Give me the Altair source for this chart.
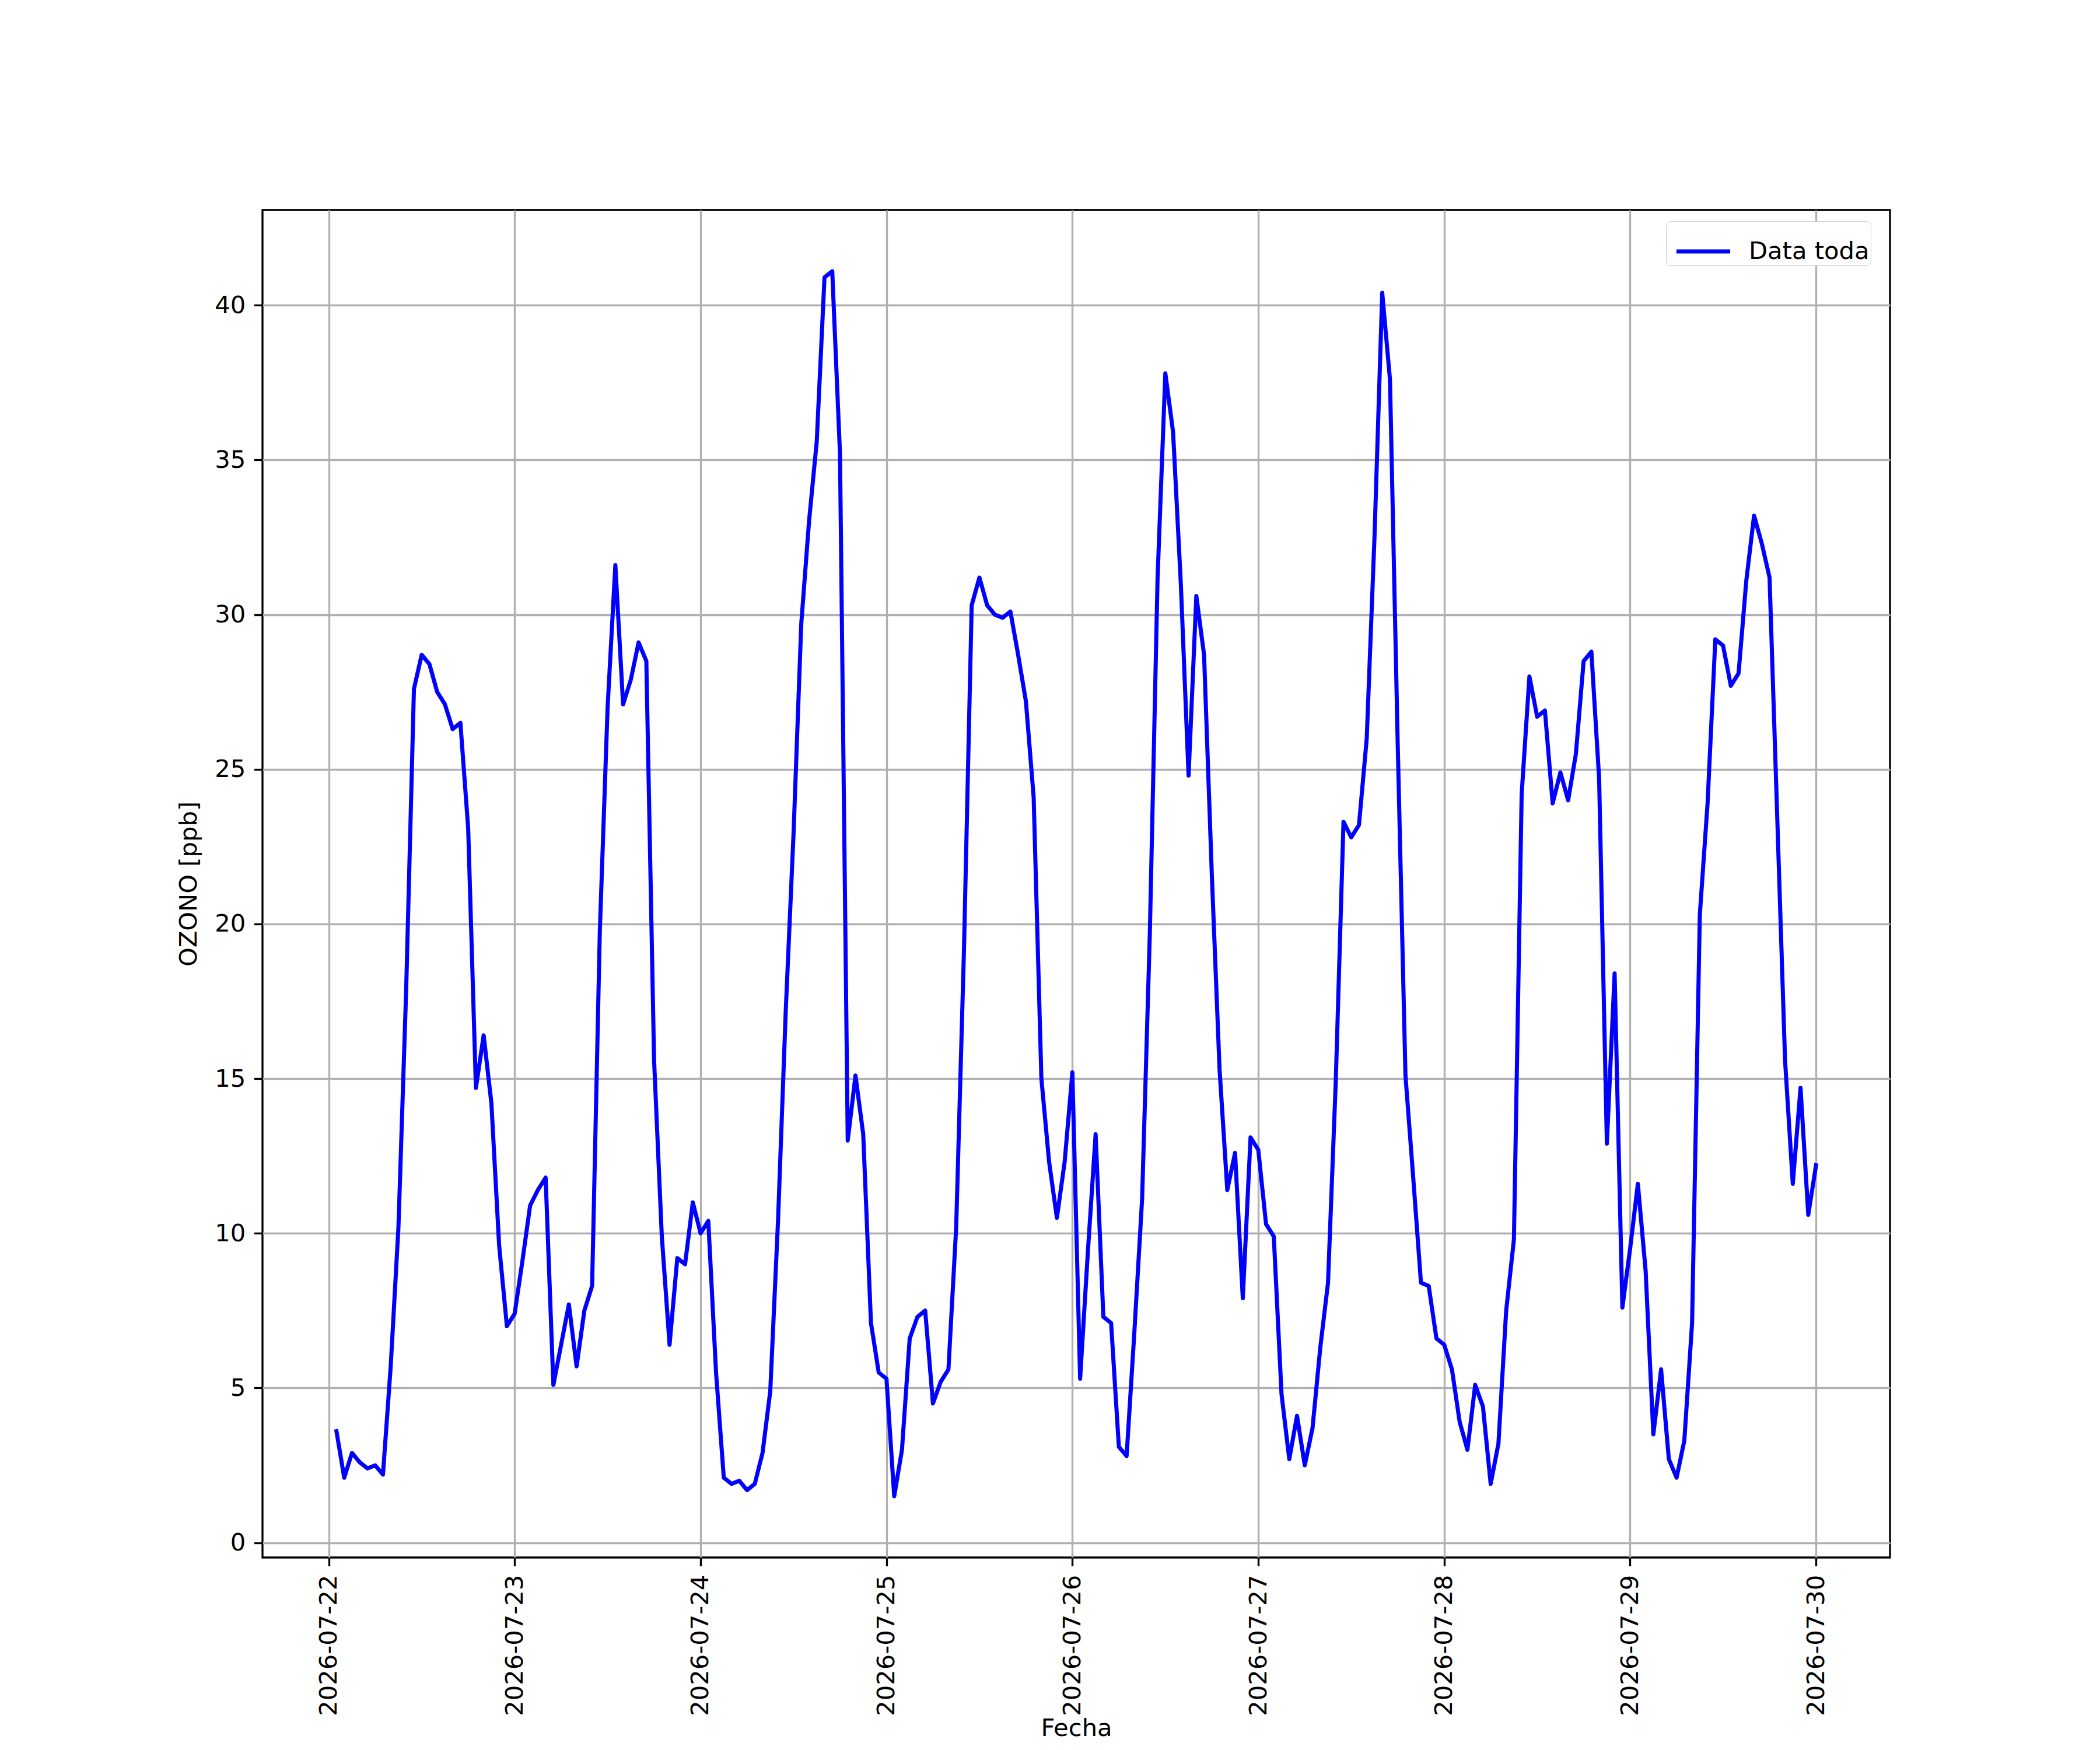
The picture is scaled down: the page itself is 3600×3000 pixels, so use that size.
import altair as alt
import pandas as pd

# Hourly OZONO values, 2026-07-22 01:00 ... 2026-07-30 00:00 (24 per day)
dia_22 = [3.6, 2.1, 2.9, 2.6, 2.4, 2.5, 2.2, 5.7, 10.2, 17.9, 27.6, 28.7,
          28.4, 27.5, 27.1, 26.3, 26.5, 23.1, 14.7, 16.4, 14.2, 9.6, 7.0, 7.4]
dia_23 = [9.1, 10.9, 11.4, 11.8, 5.1, 6.4, 7.7, 5.7, 7.5, 8.3, 19.8, 27.0,
          31.6, 27.1, 27.9, 29.1, 28.5, 15.6, 9.9, 6.4, 9.2, 9.0, 11.0, 10.0]
dia_24 = [10.4, 5.5, 2.1, 1.9, 2.0, 1.7, 1.9, 2.9, 4.9, 10.4, 17.2, 22.9,
          29.7, 33.0, 35.6, 40.9, 41.1, 35.2, 13.0, 15.1, 13.2, 7.1, 5.5, 5.3]
dia_25 = [1.5, 3.0, 6.6, 7.3, 7.5, 4.5, 5.2, 5.6, 10.2, 19.1, 30.3, 31.2,
          30.3, 30.0, 29.9, 30.1, 28.7, 27.2, 24.1, 15.0, 12.3, 10.5, 12.3, 15.2]
dia_26 = [5.3, 9.4, 13.2, 7.3, 7.1, 3.1, 2.8, 6.8, 11.1, 19.7, 31.2, 37.8,
          35.9, 31.0, 24.8, 30.6, 28.7, 21.6, 15.3, 11.4, 12.6, 7.9, 13.1, 12.7]
dia_27 = [10.3, 9.9, 4.8, 2.7, 4.1, 2.5, 3.7, 6.3, 8.4, 14.9, 23.3, 22.8,
          23.2, 26.0, 32.5, 40.4, 37.6, 25.8, 15.1, 11.8, 8.4, 8.3, 6.6, 6.4]
dia_28 = [5.6, 3.9, 3.0, 5.1, 4.4, 1.9, 3.2, 7.5, 9.8, 24.2, 28.0, 26.7,
          26.9, 23.9, 24.9, 24.0, 25.5, 28.5, 28.8, 24.7, 12.9, 18.4, 7.6, 9.5]
dia_29 = [11.6, 8.8, 3.5, 5.6, 2.7, 2.1, 3.3, 7.1, 20.3, 23.9, 29.2, 29.0,
          27.7, 28.1, 31.1, 33.2, 32.3, 31.2, 23.4, 15.6, 11.6, 14.7, 10.6, 12.2]

ozono = dia_22 + dia_23 + dia_24 + dia_25 + dia_26 + dia_27 + dia_28 + dia_29
fechas = pd.date_range("2026-07-22 01:00", periods=len(ozono), freq="h")

tick_days = [22, 23, 24, 25, 26, 27, 28, 29, 30]
serie = "Data toda"

df = pd.DataFrame({
    "Fecha": [f.strftime("%Y-%m-%dT%H:%M:%S") for f in fechas],
    "OZONO": ozono,
    "serie": serie,
})

FONT = "DejaVu Sans"
FS = 41.67
LW = 3.33
LINE_W = 7

chart = alt.Chart(df).mark_line(
    strokeWidth=LINE_W, strokeJoin="round", strokeCap="square"
).encode(
    x=alt.X(
        "Fecha:T",
        scale=alt.Scale(domain=[
            alt.DateTime(year=2026, month=7, date=21, hours=15, minutes=27),
            alt.DateTime(year=2026, month=7, date=30, hours=9, minutes=33),
        ]),
        axis=alt.Axis(
            values=[alt.DateTime(year=2026, month=7, date=d) for d in tick_days],
            format="%Y-%m-%d",
            labelAngle=270,
            labelAlign="right",
            labelBaseline="middle",
            labelLimit=500,
            title="Fecha",
            titleY=272,
            titleBaseline="top",
        ),
    ),
    y=alt.Y(
        "OZONO:Q",
        scale=alt.Scale(domain=[-0.48, 43.08], nice=False, zero=False),
        axis=alt.Axis(
            values=[0, 5, 10, 15, 20, 25, 30, 35, 40],
            title="OZONO [ppb]",
            titlePadding=22,
        ),
    ),
    color=alt.Color(
        "serie:N",
        scale=alt.Scale(domain=[serie], range=["#0000ff"]),
        legend=alt.Legend(
            title=None,
            orient="none",
            legendX=2406,
            legendY=19,
            symbolType="stroke",
            symbolStrokeWidth=LINE_W,
            symbolSize=8500,
            symbolOffset=12,
            labelFont=FONT,
            labelFontSize=FS,
            labelColor="black",
            labelLimit=500,
            labelOffset=28,
            padding=2,
            strokeColor="#cccccc",
            fillColor="white",
            cornerRadius=8,
        ),
    ),
).properties(
    width=2790,
    height=2310,
    padding={"left": 442, "top": 352, "right": 352, "bottom": 322},
    autosize=alt.AutoSizeParams(type="none"),
    background="white",
).configure_view(
    stroke="black", strokeWidth=LW
).configure_axis(
    labelFont=FONT, labelFontSize=FS, labelColor="black",
    titleFont=FONT, titleFontSize=FS, titleColor="black", titleFontWeight="normal",
    grid=True, gridColor="#b0b0b0", gridWidth=LW,
    domain=False,
    ticks=True, tickColor="black", tickWidth=LW, tickSize=14.6,
    labelPadding=14.6,
)

chart.save("out.html", embed_options={"renderer": "svg", "actions": False})
